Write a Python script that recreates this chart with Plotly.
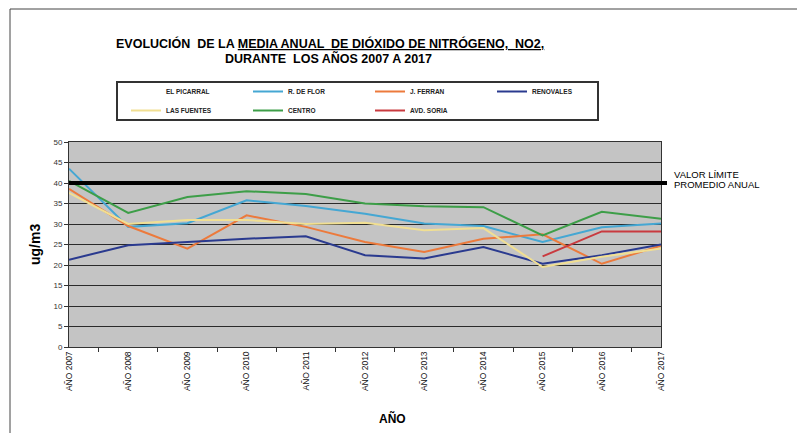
import plotly.graph_objects as go

# --- data ---
years = ["AÑO 2007", "AÑO 2008", "AÑO 2009", "AÑO 2010", "AÑO 2011", "AÑO 2012",
         "AÑO 2013", "AÑO 2014", "AÑO 2015", "AÑO 2016", "AÑO 2017"]

el_picarral = [None] * 11
r_de_flor = [43.5, 29.3, 30.2, 35.8, 34.4, 32.5, 30.1, 29.5, 25.6, 29.2, 30.1]
j_ferran = [38.6, 29.5, 24.0, 32.1, 29.3, 25.6, 23.2, 26.4, 27.5, 20.3, 24.7]
renovales = [21.3, 24.8, 25.6, 26.4, 27.0, 22.4, 21.6, 24.4, 20.3, 22.4, 25.0]
las_fuentes = [37.6, 30.0, 31.0, 31.0, 30.0, 30.3, 28.5, 29.0, 19.5, 22.0, 24.0]
centro = [40.5, 32.7, 36.6, 38.0, 37.3, 35.0, 34.3, 34.1, 27.2, 33.0, 31.3]
avd_soria = [None, None, None, None, None, None, None, None, 22.1, 28.2, 28.2]

limite = 40
y_ticks = list(range(0, 51, 5))

# legend order: row 1 then row 2
series = [
    ("EL PICARRAL", el_picarral, "#ffffff"),
    ("R. DE FLOR", r_de_flor, "#45a7d3"),
    ("J. FERRAN", j_ferran, "#ec7a3c"),
    ("RENOVALES", renovales, "#2a3a8f"),
    ("LAS FUENTES", las_fuentes, "#f1df92"),
    ("CENTRO", centro, "#3d9e48"),
    ("AVD. SORIA", avd_soria, "#c93a3f"),
]

fig = go.Figure()
for name, vals, col in series:
    fig.add_trace(go.Scatter(
        x=years, y=vals, name=name, mode="lines",
        line=dict(color=col, width=2), connectgaps=False,
    ))

# page has an 8px body margin, so work in reference pixels and shift
OFF = 8
W, H = 805 - OFF, 433 - OFF
L, R, T, B = 69 - OFF, 661 - OFF, 142 - OFF, 347 - OFF
pw, ph = R - L, B - T


def px(x):
    return (x - OFF - L) / pw


def py(y):
    return (B - (y - OFF)) / ph


bold = dict(family="Liberation Sans, Arial, sans-serif", weight="bold", color="black")


def label(text, x, y, font, **kw):
    return dict(text=text, xref="paper", yref="paper", x=px(x), y=py(y),
                xanchor=kw.pop("xanchor", "center"), yanchor="middle",
                showarrow=False, font=font, **kw)


fig.update_layout(
    width=W, height=H,
    margin=dict(l=L, r=W - R, t=T, b=H - B, pad=0),
    paper_bgcolor="white",
    plot_bgcolor="#c4c4c4",
    font=dict(family="Liberation Sans, Arial, sans-serif", color="#222"),
    showlegend=True,
    legend=dict(
        orientation="h", x=px(126), y=py(77), xanchor="left", yanchor="top",
        borderwidth=0, bgcolor="rgba(0,0,0,0)",
        font=dict(size=6.5, color="#222", weight="bold"),
        entrywidth=77, itemwidth=30, tracegroupgap=0,
    ),
    shapes=[
        # legend frame
        dict(type="rect", xref="paper", yref="paper", x0=px(117), x1=px(598),
             y0=py(82), y1=py(120), line=dict(color="#333", width=2), layer="below"),
        # limit value line
        dict(type="line", xref="paper", yref="y", x0=0, x1=px(667),
             y0=limite, y1=limite, line=dict(color="black", width=4), layer="above"),
        # page frame (top and left)
        dict(type="line", xref="paper", yref="paper", x0=px(10), x1=px(805),
             y0=py(9), y1=py(9), line=dict(color="#444", width=1)),
        dict(type="line", xref="paper", yref="paper", x0=px(10), x1=px(10),
             y0=py(9), y1=py(433), line=dict(color="#444", width=1)),
    ],
    annotations=[
        label("EVOLUCIÓN  DE LA <u>MEDIA ANUAL  DE DIÓXIDO DE NITRÓGENO,  NO2,</u>",
              330, 43, dict(bold, size=12.5)),
        label("DURANTE  LOS AÑOS 2007 A 2017", 328, 58, dict(bold, size=12.5)),
        label("VALOR LÍMITE", 672, 174, dict(size=9.5, color="black"), xanchor="left"),
        label("PROMEDIO ANUAL", 672, 184, dict(size=9.5, color="black"), xanchor="left"),
        label("AÑO", 392, 418, dict(bold, size=12)),
        label("ug/m3", 35, 245, dict(bold, size=14), textangle=-90),
    ],
)

fig.update_xaxes(
    type="category", tickson="boundaries", ticks="outside", ticklen=4,
    tickcolor="#333", tickangle=-90, tickfont=dict(size=8.5, color="#111"),
    showline=True, linecolor="#333", linewidth=1, mirror=True,
    showgrid=False,
)
fig.update_yaxes(
    range=[0, 50], tickvals=y_ticks, ticks="outside", ticklen=4,
    tickcolor="#333", tickfont=dict(size=8, color="#333"),
    showline=True, linecolor="#333", linewidth=1, mirror=True,
    showgrid=True, gridcolor="#2a2a2a", gridwidth=1, zeroline=False,
)

fig.write_html("out.html")
